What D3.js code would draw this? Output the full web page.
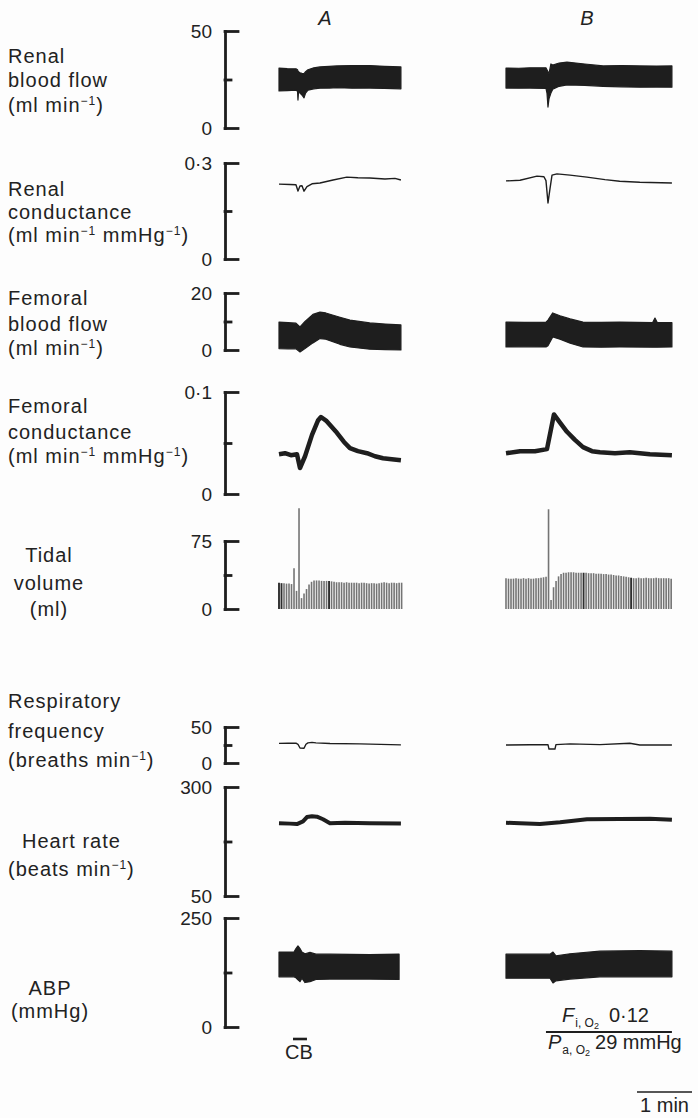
<!DOCTYPE html>
<html>
<head>
<meta charset="utf-8">
<script src="https://cdn.jsdelivr.net/npm/d3@7"></script>
<style>
  body { margin: 0; background: #fdfdfd; }
  svg { display: block; }
  text { font-family: "Liberation Sans", Arial, Helvetica, sans-serif; fill: #222; }
</style>
</head>
<body>
<svg id="chart" width="698" height="1118"></svg>
<script>
// ---------------- recorded data (time in s from start of each recording) ----------------
const durationA = 133;   // recording A length (s)
const durationB = 181;   // recording B length (s)

// Renal blood flow (ml/min): [t, diastolic envelope, systolic envelope]
const renalFlowA = [[0,19.1,30.9],[9,19.3,30.6],[18.5,19.5,30.5],[20.2,19,30],[20.7,14.4,29.5],[21.3,18.5,29],
  [22.9,18,28.5],[25,17,28.2],[27.3,15.5,28],[29,18,29],[31.6,19.5,30],[38,20.2,31],[44.7,20.5,31.5],
  [55,20.6,31.8],[63,20.8,32],[80,20.5,32.2],[99,20.6,32.2],[115,20.4,31.8],[133,20.2,31.5]];
const renalFlowB = [[0,20.6,30.9],[14,20.5,30.8],[26,20.6,31],[43.6,20.4,31],[44.7,18,30],[45.8,10.8,29],
  [46.9,15,28],[49,18,33],[51,20,32.5],[58,21.5,33.5],[66.5,22.2,34],[86,22,33],[106,21.5,32],
  [126,21.2,32.2],[146,21,32],[164,21.1,31.9],[181,21,32]];

// Renal conductance (ml/min/mmHg): [t, value]
const renalCondA = [[0,0.234],[12,0.233],[18.5,0.232],[20.7,0.2125],[22.9,0.228],[25.1,0.229],[27.3,0.212],
  [30.5,0.226],[36,0.235],[44.7,0.2375],[59,0.247],[74,0.256],[86,0.254],[99,0.253],[115.6,0.25],
  [126.5,0.252],[133,0.247]];
const renalCondB = [[0,0.244],[15.3,0.246],[33.8,0.259],[41.4,0.257],[43.6,0.245],[45.8,0.175],[48,0.22],
  [50.2,0.262],[55.6,0.266],[69.8,0.262],[88.3,0.256],[108,0.248],[124,0.243],[146,0.24],[181,0.2375]];

// Femoral blood flow (ml/min): [t, diastolic envelope, systolic envelope]
const femFlowA = [[0,0.5,9.8],[10,0.4,9.6],[18.5,0.4,9.4],[22.9,-0.7,8.1],[28.4,0.5,10],[37,2.5,12.5],
  [44.7,4,13.3],[51,3.8,13],[66.5,2,11.5],[77.4,1.05,10.5],[99,0.3,9.5],[116,0.1,9.1],[133,0,8.8]];
const femFlowB = [[0,1.05,9.8],[20,1.1,9.7],[43.6,1.05,9.8],[45.8,1.5,10.5],[51,4.6,13],[58.9,3.8,12],
  [70,2.4,10.9],[84,1.05,9.8],[104,1,9.7],[124,1.05,9.8],[160,1,9.6],[162.5,1,11.2],[165,1,9.6],[181,1.05,9.6]];

// Femoral conductance (ml/min/mmHg): [t, value]
const femCondA = [[0,0.039],[6.5,0.04],[13,0.038],[19.6,0.039],[22.9,0.0255],[28.4,0.037],[36,0.058],
  [42.5,0.072],[45.8,0.0755],[51.3,0.072],[63.2,0.06],[70.9,0.051],[77.4,0.045],[86.1,0.042],
  [96,0.04],[104.7,0.037],[113.4,0.035],[123,0.034],[133,0.033]];
const femCondB = [[0,0.04],[15.3,0.042],[31.6,0.042],[44.7,0.044],[52.3,0.078],[58.9,0.07],[66.5,0.061],
  [75.2,0.053],[84,0.046],[93.8,0.042],[102.5,0.041],[118.9,0.04],[135,0.041],[157,0.039],[181,0.038]];

// Tidal volume (ml), one value per breath
const breathPeriod = 2.73; // s
const tidalA = [29,28.5,28.5,28,28,27.5,45,20,111,12,17,22,27,30,31.5,
  31.5,31.5,31,31,31,31,30.5,30,29.5,29.5,29.5,29,29.5,29,29,29,29,28.5,29,29,
  28.5,28,28.5,28.5,28,28.5,29,29.5,29,28.5,29,29,28.5,29,29];
const tidalB = [34,33.5,33.5,33.5,34,33.5,33.5,34,33.5,34,33.5,33.5,34,34,34.5,35,35.5,
  110,10,24,31,36,38.5,
  40,40,40.5,40.5,40.5,40,40,40,40,40,39.5,39.5,39.5,39,39,
  39,38.5,38.5,38,38,37.5,37,37,36.5,36,35.5,35,
  34.5,34,34,34.5,34,34,34.5,34,34,34,34.5,34,34,34,34,34,33.5];
const tidalDarkA = [0, 1, 20];
const tidalDarkB = [31, 50];

// Respiratory frequency (breaths/min): [t, value]
const respA = [[0,27.3],[10,27.5],[18.5,27.5],[20.7,26],[22.9,20.8],[27.3,20.4],[29.4,26],[31.6,28],
  [36,28.7],[40.3,28],[55.6,27],[88.3,26.5],[133,25.2]];
const respB = [[0,25],[26,25.3],[45.8,25.5],[46.9,19.4],[53.4,19.4],[54.5,25.5],[69.8,26.5],[102.5,25.5],
  [135,27.5],[146,25],[181,25]];

// Heart rate (beats/min): [t, value]
const hrA = [[0,217],[12,216],[19.6,215],[26.2,221],[30.5,231],[36,233],[41.4,232],[48,226],[55.6,217],
  [72,218],[99,217],[133,216]];
const hrB = [[0,218],[15.3,217],[37,215],[59,219],[88.3,226],[124,226.5],[157,227],[181,225]];

// Arterial blood pressure (mmHg): [t, diastolic envelope, systolic envelope]
const abpA = [[0,115,172],[16.4,115,172],[18.5,113,180],[20.7,108,186],[22.9,104,180],[25,112,172],
  [28.4,102,168],[33.8,104,171],[40.3,109,167],[55.6,110,167],[99,110,166],[131,109,167]];
const abpB = [[0,112,167],[30,112,167],[48,112,167],[51.3,101,172],[54.5,106,163],[69.8,110,168],
  [102.5,115,174],[146,115,175],[181,115,174]];

// Stimulus markers (s)
const cbMarkA = [15.3, 30.5];        // carotid body stimulation, recording A
const hypoxiaB = [43.6, durationB];  // inspired O2 switched, recording B
const scaleBarSeconds = 60;

// Axis ranges and tick labels
const renalFlowDomain = [0, 50],  renalFlowTicks = ["0", "50"];
const renalCondDomain = [0, 0.3], renalCondTicks = ["0", "0·3"];
const femFlowDomain = [0, 20],    femFlowTicks = ["0", "20"];
const femCondDomain = [0, 0.1],   femCondTicks = ["0", "0·1"];
const tidalDomain = [0, 75],      tidalTicks = ["0", "75"];
const respDomain = [0, 50],       respTicks = ["0", "50"];
const hrDomain = [50, 300],       hrTicks = ["50", "300"];
const abpDomain = [0, 250],       abpTicks = ["0", "250"];

// ---------------- layout ----------------
const svg = d3.select("#chart");
const axisX = 225;
const pxPerSec = 55 / 60;
const xA = d3.scaleLinear().domain([0, durationA]).range([279, 279 + durationA * pxPerSec]);
const xB = d3.scaleLinear().domain([0, durationB]).range([506, 506 + durationB * pxPerSec]);
const ink = "#1e1e1e";

const panels = [
  { domain: renalFlowDomain, range: [128, 31], ticks: renalFlowTicks, type: "band", a: renalFlowA, b: renalFlowB,
    label: { x: [8], anchor: "start", y: [63, 87, 112],
      lines: [[["Renal"]], [["blood flow"]], [["(ml min"], ["−1", 1], [")"]]] } },
  { domain: renalCondDomain, range: [259, 163], ticks: renalCondTicks, type: "line", width: 1.4, a: renalCondA, b: renalCondB,
    label: { x: [8], anchor: "start", y: [196, 219, 242],
      lines: [[["Renal"]], [["conductance"]], [["(ml min"], ["−1", 1], [" mmHg"], ["−1", 1], [")"]]] } },
  { domain: femFlowDomain, range: [350, 293], ticks: femFlowTicks, type: "band", a: femFlowA, b: femFlowB,
    label: { x: [8], anchor: "start", y: [305, 331, 355],
      lines: [[["Femoral"]], [["blood flow"]], [["(ml min"], ["−1", 1], [")"]]] } },
  { domain: femCondDomain, range: [494, 392], ticks: femCondTicks, type: "line", width: 4.5, a: femCondA, b: femCondB,
    label: { x: [8], anchor: "start", y: [413, 439, 463],
      lines: [[["Femoral"]], [["conductance"]], [["(ml min"], ["−1", 1], [" mmHg"], ["−1", 1], [")"]]] } },
  { domain: tidalDomain, range: [609, 541], ticks: tidalTicks, type: "bars", a: tidalA, b: tidalB,
    darkA: tidalDarkA, darkB: tidalDarkB,
    label: { x: [49], anchor: "middle", y: [562, 590, 616],
      lines: [[["Tidal"]], [["volume"]], [["(ml)"]]] } },
  { domain: respDomain, range: [763, 727], ticks: respTicks, type: "line", width: 1.4, a: respA, b: respB,
    label: { x: [8], anchor: "start", y: [708, 738, 767],
      lines: [[["Respiratory"]], [["frequency"]], [["(breaths min"], ["−1", 1], [")"]]] } },
  { domain: hrDomain, range: [896, 787], ticks: hrTicks, type: "line", width: 4, a: hrA, b: hrB,
    label: { x: [22, 8], anchor: "start", y: [848, 876],
      lines: [[["Heart rate"]], [["(beats min"], ["−1", 1], [")"]]] } },
  { domain: abpDomain, range: [1027, 918], ticks: abpTicks, type: "band", a: abpA, b: abpB,
    label: { x: [50], anchor: "middle", y: [995, 1018],
      lines: [[["ABP"]], [["(mmHg)"]]] } }
];

// ---------------- drawing ----------------
function drawLabel(lab) {
  lab.lines.forEach((segs, i) => {
    const t = svg.append("text")
      .attr("x", lab.x[Math.min(i, lab.x.length - 1)])
      .attr("y", lab.y[i])
      .attr("text-anchor", lab.anchor)
      .attr("font-size", 20)
      .attr("letter-spacing", 1);
    let raised = false;
    segs.forEach(([str, sup]) => {
      const ts = t.append("tspan").text(str);
      if (sup && !raised) { ts.attr("dy", -7).attr("font-size", 12); raised = true; }
      else if (!sup && raised) { ts.attr("dy", 7); raised = false; }
    });
  });
}

function drawAxis(p, y) {
  const g = svg.append("g").attr("transform", `translate(${axisX},0)`);
  // bracket: spine plus long end ticks
  g.append("g").call(d3.axisRight(y).tickValues(p.domain).tickSize(13).tickSizeOuter(0).tickFormat(""));
  // short middle tick
  g.append("g").call(d3.axisRight(y).tickValues([(p.domain[0] + p.domain[1]) / 2]).tickSize(6).tickFormat(""))
    .select(".domain").remove();
  g.selectAll("path, line").attr("stroke", ink).attr("stroke-width", 2.8).attr("stroke-linecap", "square");
  // end values on the left
  const lg = g.append("g").call(d3.axisLeft(y).tickValues(p.domain).tickSize(0).tickPadding(13)
    .tickFormat((d, i) => p.ticks[i]));
  lg.select(".domain").remove();
  lg.attr("font-family", null).attr("font-size", null);
  lg.selectAll("text").attr("font-size", 19).attr("fill", ink);
}

function drawTrace(p, y, data, x, dark) {
  if (p.type === "band") {
    const area = d3.area().x(d => x(d[0])).y0(d => y(d[1])).y1(d => y(d[2]));
    svg.append("path").datum(data).attr("d", area).attr("fill", ink)
      .attr("stroke", ink).attr("stroke-width", 1.2).attr("stroke-linejoin", "round");
  } else if (p.type === "line") {
    const line = d3.line().x(d => x(d[0])).y(d => y(d[1]));
    svg.append("path").datum(data).attr("d", line).attr("fill", "none")
      .attr("stroke", ink).attr("stroke-width", p.width).attr("stroke-linejoin", "round");
  } else {
    svg.append("g").selectAll("line").data(data).join("line")
      .attr("x1", (d, i) => x(i * breathPeriod)).attr("x2", (d, i) => x(i * breathPeriod))
      .attr("y1", y(0)).attr("y2", d => y(d))
      .attr("stroke", (d, i) => dark.includes(i) ? "#2e2e2e" : "#747474")
      .attr("stroke-width", (d, i) => dark.includes(i) ? 1.9 : 1.6);
  }
}

panels.forEach(p => {
  const y = d3.scaleLinear().domain(p.domain).range(p.range);
  drawLabel(p.label);
  drawAxis(p, y);
  drawTrace(p, y, p.a, xA, p.darkA || []);
  drawTrace(p, y, p.b, xB, p.darkB || []);
});

// Column headings
[["A", 325], ["B", 587]].forEach(([s, cx]) => {
  svg.append("text").attr("x", cx).attr("y", 25).attr("text-anchor", "middle")
    .attr("font-size", 20).attr("font-style", "italic").text(s);
});

// Carotid body stimulation marker
svg.append("line").attr("x1", xA(cbMarkA[0])).attr("x2", xA(cbMarkA[1]))
  .attr("y1", 1039).attr("y2", 1039).attr("stroke", ink).attr("stroke-width", 2.6);
svg.append("text").attr("x", 299).attr("y", 1059).attr("text-anchor", "middle")
  .attr("font-size", 20).text("CB");

// Hypoxia period marker
svg.append("line").attr("x1", xB(hypoxiaB[0])).attr("x2", xB(hypoxiaB[1]))
  .attr("y1", 1032).attr("y2", 1032).attr("stroke", ink).attr("stroke-width", 2);
const fi = svg.append("text").attr("x", 562).attr("y", 1022).attr("font-size", 20);
fi.append("tspan").attr("font-style", "italic").text("F");
fi.append("tspan").attr("font-size", 12).attr("dy", 5).attr("dx", 1).text("i, O");
fi.append("tspan").attr("font-size", 9).attr("dy", 2).text("2");
fi.append("tspan").attr("dy", -7).attr("dx", 10).text("0·12");
const pa = svg.append("text").attr("x", 548).attr("y", 1049).attr("font-size", 20);
pa.append("tspan").attr("font-style", "italic").text("P");
pa.append("tspan").attr("font-size", 12).attr("dy", 5).attr("dx", 1).text("a, O");
pa.append("tspan").attr("font-size", 9).attr("dy", 2).text("2");
pa.append("tspan").attr("dy", -7).attr("dx", 5).text("29 mmHg");

// Time scale bar
const sbX = d3.scaleLinear().domain([0, scaleBarSeconds]).range([637, 637 + scaleBarSeconds * pxPerSec]);
svg.append("line").attr("x1", sbX(0)).attr("x2", sbX(scaleBarSeconds)).attr("y1", 1092).attr("y2", 1092)
  .attr("stroke", ink).attr("stroke-width", 1.6);
svg.append("text").attr("x", (sbX(0) + sbX(scaleBarSeconds)) / 2).attr("y", 1112)
  .attr("text-anchor", "middle").attr("font-size", 20).text("1 min");
</script>
</body>
</html>
